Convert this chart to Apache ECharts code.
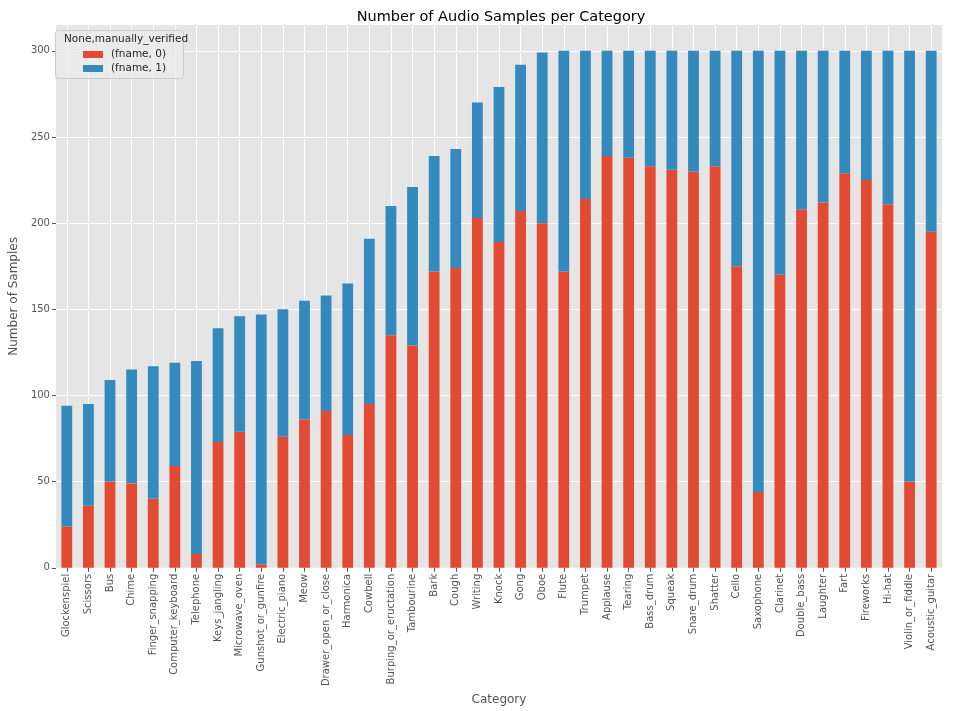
<!DOCTYPE html>
<html>
<head>
<meta charset="utf-8">
<script src="https://cdn.jsdelivr.net/npm/echarts@6/dist/echarts.min.js"></script>
<style>html,body{margin:0;padding:0;background:#fff;}#c{width:953px;height:711px;}</style>
</head>
<body>
<div id="c"></div>
<script>
const categories = ["Glockenspiel","Scissors","Bus","Chime","Finger_snapping","Computer_keyboard","Telephone","Keys_jangling","Microwave_oven","Gunshot_or_gunfire","Electric_piano","Meow","Drawer_open_or_close","Harmonica","Cowbell","Burping_or_eructation","Tambourine","Bark","Cough","Writing","Knock","Gong","Oboe","Flute","Trumpet","Applause","Tearing","Bass_drum","Squeak","Snare_drum","Shatter","Cello","Saxophone","Clarinet","Double_bass","Laughter","Fart","Fireworks","Hi-hat","Violin_or_fiddle","Acoustic_guitar"];
const notVerified = [24,36,50,49,40,59,8,73,79,2,76,86,91,77,95,135,129,172,174,203,189,207,200,172,214,239,238,233,231,230,233,175,44,170,208,212,229,225,211,50,195];
const verified = [70,59,59,66,77,60,112,66,67,145,74,69,67,88,96,75,92,67,69,67,90,85,99,128,86,61,62,67,69,70,67,125,256,130,92,88,71,75,89,250,105];
const yTicks = [0,50,100,150,200,250,300];
const seriesNames = ["(fname, 0)","(fname, 1)"];
const legendTitle = "None,manually_verified";

const FONT = "DejaVu Sans";
const chart = echarts.init(document.getElementById('c'), null, {renderer:'canvas'});
chart.setOption({
  animation: false,
  backgroundColor: '#ffffff',
  textStyle: {fontFamily: FONT},
  title: [
    {text: 'Number of Audio Samples per Category', left: 496, top: 5, textAlign: 'center',
     textStyle: {fontFamily: FONT, fontSize: 14.5, fontWeight: 'normal', color: '#000'}},
    {text: legendTitle, left: 59, top: 29,
     textStyle: {fontFamily: FONT, fontSize: 10.5, fontWeight: 'normal', color: '#262626'}}
  ],
  graphic: [{
    type: 'rect', left: 55, top: 30, z: 1,
    shape: {width: 128, height: 48, r: 3},
    style: {fill: 'rgba(235,235,235,0.85)', stroke: '#cccccc', lineWidth: 1}
  }],
  legend: {
    left: 78, top: 44, orient: 'vertical', itemWidth: 20, itemHeight: 7, itemGap: 3,
    data: seriesNames, icon: 'rect', z: 5,
    textStyle: {fontFamily: FONT, fontSize: 10.5, color: '#262626', padding: [0,0,0,3]}
  },
  grid: {left: 50, right: 11, top: 25, bottom: 143, show: true, backgroundColor: '#E5E5E5', borderWidth: 0, containLabel: false},
  xAxis: {
    type: 'category', data: categories,
    name: 'Category', nameLocation: 'middle', nameGap: 120,
    nameTextStyle: {fontFamily: FONT, fontSize: 12, color: '#555'},
    axisLine: {show: false},
    axisTick: {show: true, alignWithLabel: true, length: 4, lineStyle: {color: '#555'}},
    axisLabel: {rotate: 90, interval: 0, fontSize: 10, color: '#555', margin: 6, fontFamily: FONT},
    splitLine: {show: true, interval: 0, alignWithLabel: true, lineStyle: {color: '#ffffff', width: 1}}
  },
  yAxis: {
    type: 'value', min: 0, max: 315, interval: 50,
    name: 'Number of Samples', nameLocation: 'middle', nameGap: 32,
    nameTextStyle: {fontFamily: FONT, fontSize: 12, color: '#555'},
    axisLine: {show: false},
    axisTick: {show: true, length: 4, lineStyle: {color: '#555'}, customValues: yTicks},
    axisLabel: {fontSize: 10, color: '#555', margin: 6, fontFamily: FONT, customValues: yTicks},
    splitLine: {show: true, lineStyle: {color: '#ffffff', width: 1}}
  },
  series: [
    {name: seriesNames[0], type: 'bar', stack: 'total', data: notVerified, barWidth: '50%', itemStyle: {color: '#E24A33'}},
    {name: seriesNames[1], type: 'bar', stack: 'total', data: verified, barWidth: '50%', itemStyle: {color: '#348ABD'}}
  ]
});
</script>
</body>
</html>
